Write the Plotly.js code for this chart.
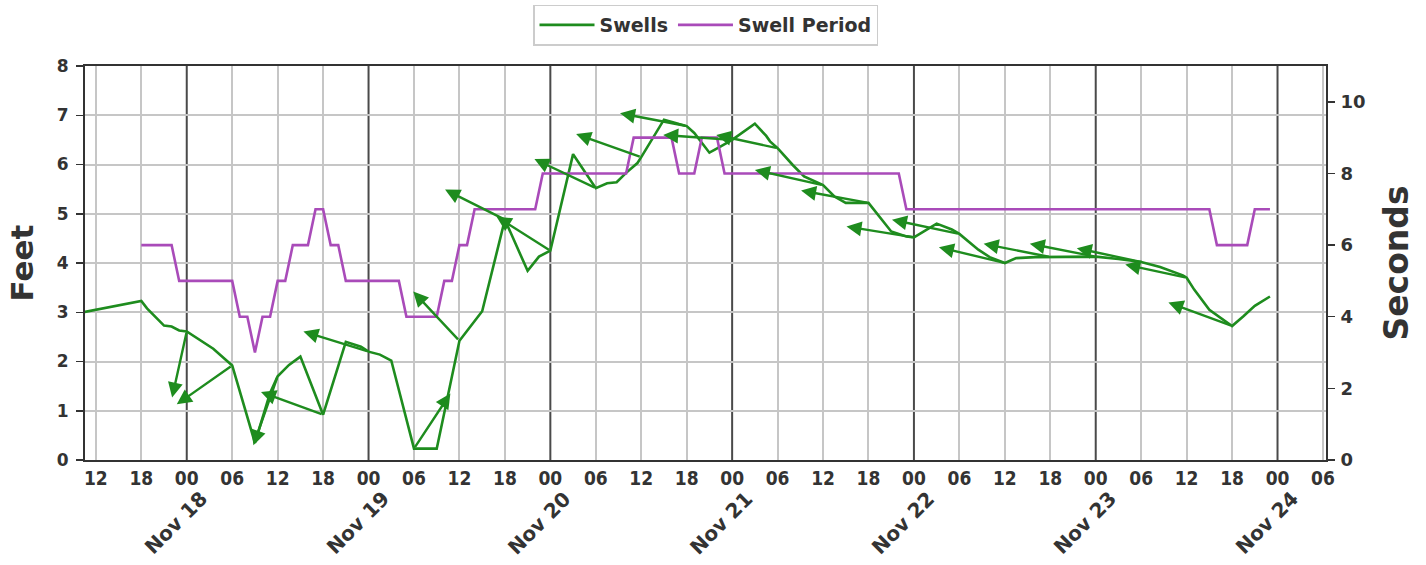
<!DOCTYPE html>
<html><head><meta charset="utf-8">
<script src="https://cdn.plot.ly/plotly-3.0.1.min.js"></script>
<style>html,body{margin:0;padding:0;background:#fff;} #chart{width:1426px;height:565px;}</style>
</head><body><div id="chart"></div>
<script>
// ---- Swell height (feet) ----
const swellTimes = [
 '2018-11-17 10:00','2018-11-17 18:00','2018-11-17 18:45','2018-11-17 21:00','2018-11-17 22:00','2018-11-17 23:00',
 '2018-11-18 00:00','2018-11-18 03:30','2018-11-18 06:00','2018-11-18 09:00','2018-11-18 11:00','2018-11-18 12:00',
 '2018-11-18 13:30','2018-11-18 15:00','2018-11-18 18:00','2018-11-18 21:00','2018-11-18 23:00',
 '2018-11-19 00:00','2018-11-19 01:30','2018-11-19 03:00','2018-11-19 06:00','2018-11-19 09:00','2018-11-19 12:00',
 '2018-11-19 15:00','2018-11-19 18:00','2018-11-19 21:00','2018-11-19 22:30',
 '2018-11-20 00:00','2018-11-20 03:00','2018-11-20 06:00','2018-11-20 07:30','2018-11-20 08:45','2018-11-20 10:00',
 '2018-11-20 11:30','2018-11-20 12:00','2018-11-20 13:00','2018-11-20 15:00','2018-11-20 17:00','2018-11-20 18:00',
 '2018-11-20 19:00','2018-11-20 21:00','2018-11-20 22:30',
 '2018-11-21 00:00','2018-11-21 03:00','2018-11-21 04:30','2018-11-21 05:00','2018-11-21 06:00','2018-11-21 08:00',
 '2018-11-21 09:30','2018-11-21 12:00','2018-11-21 13:30','2018-11-21 15:00','2018-11-21 18:00','2018-11-21 21:00',
 '2018-11-21 23:00',
 '2018-11-22 00:00','2018-11-22 03:00','2018-11-22 05:00','2018-11-22 06:00','2018-11-22 08:30','2018-11-22 10:00',
 '2018-11-22 12:00','2018-11-22 13:30','2018-11-22 16:00','2018-11-22 18:00',
 '2018-11-23 00:00','2018-11-23 03:00','2018-11-23 06:00','2018-11-23 08:30','2018-11-23 11:30','2018-11-23 12:00',
 '2018-11-23 13:00','2018-11-23 15:00','2018-11-23 18:00','2018-11-23 19:30','2018-11-23 21:00','2018-11-23 23:00'
];
const swellFeet = [
 2.99,3.23,3.08,2.73,2.71,2.63,
 2.61,2.26,1.92,0.35,1.36,1.70,
 1.93,2.10,0.92,2.40,2.30,
 2.20,2.14,2.02,0.23,0.23,2.42,
 3.02,4.88,3.84,4.13,
 4.25,6.21,5.52,5.62,5.64,5.83,
 6.03,6.15,6.40,6.91,6.82,6.78,
 6.64,6.24,6.37,
 6.50,6.83,6.58,6.47,6.33,5.99,
 5.76,5.58,5.35,5.22,5.22,4.64,
 4.54,
 4.52,4.80,4.68,4.59,4.27,4.12,
 4.00,4.10,4.12,4.12,
 4.13,4.08,4.02,3.92,3.75,3.70,
 3.46,3.05,2.72,2.92,3.13,3.32
];

// ---- Swell direction arrows: tail at swell point, head at tip ----
const arrowTailTimes = [
 '2018-11-18 00:00','2018-11-18 06:00','2018-11-18 12:00','2018-11-18 18:00',
 '2018-11-19 00:00','2018-11-19 06:00','2018-11-19 12:00','2018-11-19 18:00',
 '2018-11-20 00:00','2018-11-20 06:00','2018-11-20 12:00','2018-11-20 18:00',
 '2018-11-21 00:00','2018-11-21 06:00','2018-11-21 12:00','2018-11-21 18:00',
 '2018-11-22 00:00','2018-11-22 06:00','2018-11-22 12:00','2018-11-22 18:00',
 '2018-11-23 00:00','2018-11-23 06:00','2018-11-23 12:00','2018-11-23 18:00'
];
const arrowTipTimes = [
 '2018-11-17 22:04','2018-11-17 22:41','2018-11-18 08:48','2018-11-18 09:48',
 '2018-11-18 15:24','2018-11-19 10:48','2018-11-19 05:54','2018-11-19 10:06',
 '2018-11-19 16:54','2018-11-19 21:54','2018-11-20 03:24','2018-11-20 09:12',
 '2018-11-20 14:54','2018-11-20 21:54','2018-11-21 03:00','2018-11-21 09:06',
 '2018-11-21 15:06','2018-11-21 21:06','2018-11-22 03:18','2018-11-22 09:12',
 '2018-11-22 15:18','2018-11-22 21:30','2018-11-23 03:54','2018-11-23 09:36'
];
const arrowTipFeet = [
 1.27,1.13,0.30,1.38,
 2.61,1.35,3.42,5.49,
 4.94,6.11,6.62,7.04,
 6.60,6.60,5.89,5.47,
 4.74,4.88,4.32,4.39,
 4.39,4.30,3.97,3.20
];

// ---- Swell period (seconds) ----
const periodTimes = [
 '2018-11-17 18:00','2018-11-17 22:00','2018-11-17 23:00','2018-11-18 06:00','2018-11-18 07:00','2018-11-18 08:00',
 '2018-11-18 09:00','2018-11-18 10:00','2018-11-18 11:00','2018-11-18 12:00','2018-11-18 13:00','2018-11-18 14:00',
 '2018-11-18 16:00','2018-11-18 17:00','2018-11-18 18:00','2018-11-18 19:00','2018-11-18 20:00','2018-11-18 21:00',
 '2018-11-19 04:00','2018-11-19 05:00','2018-11-19 09:00','2018-11-19 10:00','2018-11-19 11:00','2018-11-19 12:00',
 '2018-11-19 13:00','2018-11-19 14:00','2018-11-19 22:00','2018-11-19 23:00',
 '2018-11-20 10:00','2018-11-20 11:00','2018-11-20 16:00','2018-11-20 17:00','2018-11-20 19:00','2018-11-20 20:00',
 '2018-11-20 22:00','2018-11-20 23:00','2018-11-21 22:00','2018-11-21 23:00',
 '2018-11-23 15:00','2018-11-23 16:00','2018-11-23 20:00','2018-11-23 21:00','2018-11-23 23:00'
];
const periodSeconds = [
 6,6,5,5,4,4,
 3,4,4,5,5,6,
 6,7,7,6,6,5,
 5,4,4,5,5,6,
 6,7,7,8,
 8,9,9,8,8,9,
 9,8,8,7,
 7,6,6,7,7
];

// ---- Axis ticks / labels ----
const hourTickTimes = [
 '2018-11-17 12:00','2018-11-17 18:00',
 '2018-11-18 00:00','2018-11-18 06:00','2018-11-18 12:00','2018-11-18 18:00',
 '2018-11-19 00:00','2018-11-19 06:00','2018-11-19 12:00','2018-11-19 18:00',
 '2018-11-20 00:00','2018-11-20 06:00','2018-11-20 12:00','2018-11-20 18:00',
 '2018-11-21 00:00','2018-11-21 06:00','2018-11-21 12:00','2018-11-21 18:00',
 '2018-11-22 00:00','2018-11-22 06:00','2018-11-22 12:00','2018-11-22 18:00',
 '2018-11-23 00:00','2018-11-23 06:00','2018-11-23 12:00','2018-11-23 18:00',
 '2018-11-24 00:00','2018-11-24 06:00'
];
const hourTickLabels = ['12','18','00','06','12','18','00','06','12','18','00','06','12','18',
 '00','06','12','18','00','06','12','18','00','06','12','18','00','06'];
const dayTickTimes = ['2018-11-18 00:00','2018-11-19 00:00','2018-11-20 00:00','2018-11-21 00:00',
 '2018-11-22 00:00','2018-11-23 00:00','2018-11-24 00:00'];
const dayTickLabels = ['Nov 18','Nov 19','Nov 20','Nov 21','Nov 22','Nov 23','Nov 24'];
const feetTicks = [0,1,2,3,4,5,6,7,8];
const secondTicks = [0,2,4,6,8,10];

const GREEN = '#1e8c1e';
const PURPLE = '#a94bb9';
const TXT = '#333333';
const GRID = '#c6c6c6';
const BOLD = {family:'DejaVu Sans, Verdana, sans-serif', weight:'bold', color:TXT};

const traces = [
 {x: swellTimes, y: swellFeet, type:'scatter', mode:'lines', name:'Swells',
  line:{color:GREEN, width:2.6}, yaxis:'y', hoverinfo:'skip'},
 {x: periodTimes, y: periodSeconds, type:'scatter', mode:'lines', name:'Swell Period',
  line:{color:PURPLE, width:2.6}, yaxis:'y2', hoverinfo:'skip'}
];

function feetAt(t){ const i = swellTimes.indexOf(t); return swellFeet[i]; }

const annotations = [];
arrowTailTimes.forEach((t,i)=>{
  annotations.push({x: arrowTipTimes[i], y: arrowTipFeet[i], ax: t, ay: feetAt(t),
    xref:'x', yref:'y', axref:'x', ayref:'y', text:'', showarrow:true,
    arrowhead:2, arrowsize:1.25, arrowwidth:2.4, arrowcolor:GREEN, standoff:0, startstandoff:0});
});
dayTickTimes.forEach((t,i)=>{
  annotations.push({x:t, y:-0.16, xref:'x', yref:'paper', text: dayTickLabels[i], showarrow:false,
    textangle:-45, xanchor:'center', yanchor:'middle', xshift:-11,
    font:Object.assign({size:20}, BOLD)});
});

// gray 6-hour grid everywhere except midnight (midnight gets a dark line)
const nonMidnightTicks = hourTickTimes.filter((t,i)=>hourTickLabels[i] !== '00');
const shapes = dayTickTimes.map(t=>({type:'line', xref:'x', yref:'paper', x0:t, x1:t, y0:0, y1:1,
  layer:'below', line:{color:'#4a4a4a', width:2}}));

const layout = {
  width:1426, height:565,
  margin:{l:85, r:100, t:66, b:105},
  paper_bgcolor:'#fff', plot_bgcolor:'#fff',
  showlegend:true,
  legend:{orientation:'h', x:0.5, xanchor:'center', xref:'paper', y:0.992, yanchor:'top', yref:'container',
    bordercolor:'#cccccc', borderwidth:1.5, bgcolor:'#fff', itemwidth:55,
    font:Object.assign({size:19}, BOLD)},
  xaxis:{type:'date', range:['2018-11-17 10:34','2018-11-24 06:24'],
    tickmode:'array', tickvals:hourTickTimes, ticktext:hourTickLabels,
    tickfont:{family:'Liberation Sans Narrow, DejaVu Sans Condensed, DejaVu Sans, sans-serif', size:19, weight:'bold', color:TXT},
    ticks:'', showgrid:false,
    minor:{tickmode:'array', tickvals:nonMidnightTicks, showgrid:true, gridcolor:GRID, gridwidth:2, ticks:''},
    showline:true, linecolor:'#333', linewidth:2, mirror:true, zeroline:false},
  yaxis:{range:[0,8], tickmode:'array', tickvals:feetTicks,
    tickfont:Object.assign({size:17}, BOLD), ticklabelstandoff:4,
    ticks:'outside', ticklen:7, tickwidth:1.5, tickcolor:'#333',
    showgrid:true, gridcolor:GRID, gridwidth:2, zeroline:false,
    showline:true, linecolor:'#333', linewidth:2,
    title:{text:'Feet', font:Object.assign({size:31}, BOLD), standoff:14}},
  yaxis2:{range:[0,11], overlaying:'y', side:'right', tickmode:'array', tickvals:secondTicks,
    tickfont:Object.assign({size:18}, BOLD), ticklabelstandoff:2,
    ticks:'outside', ticklen:7, tickwidth:1.5, tickcolor:'#333',
    showgrid:false, zeroline:false, showline:true, linecolor:'#333', linewidth:2,
    title:{text:'Seconds', font:Object.assign({size:33}, BOLD), standoff:20}},
  annotations: annotations,
  shapes: shapes
};

Plotly.newPlot('chart', traces, layout, {displayModeBar:false, staticPlot:true});
</script></body></html>
